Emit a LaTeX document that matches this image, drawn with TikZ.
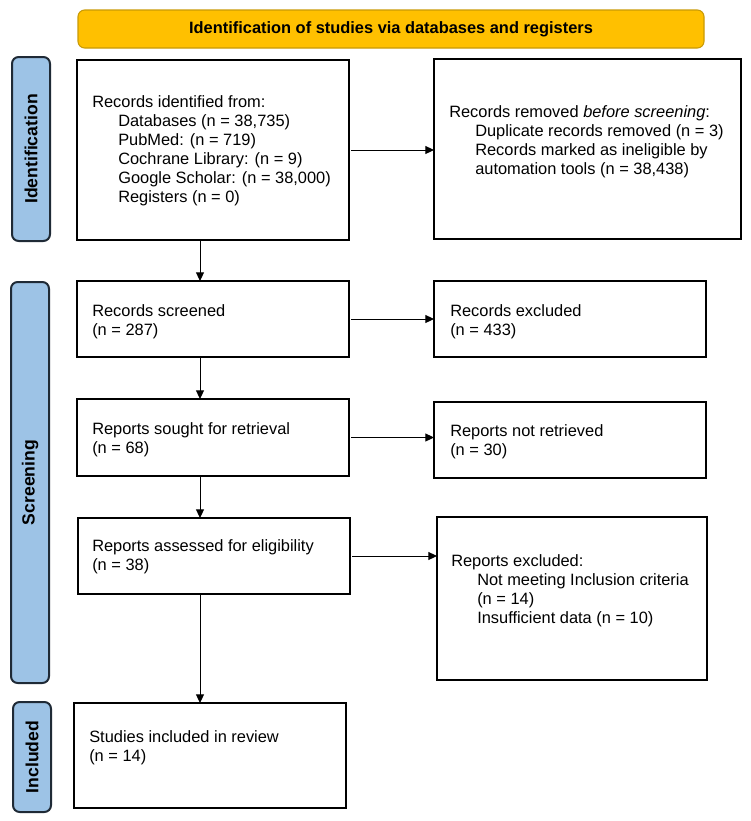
\documentclass[tikz,border=0pt]{standalone}
\usepackage{fontspec}
\setmainfont{Liberation Sans}
\usetikzlibrary{arrows.meta}
\definecolor{bannerfill}{HTML}{FFC000}
\definecolor{bannerdraw}{HTML}{C99A06}
\definecolor{barfill}{HTML}{9DC3E6}
\definecolor{bardraw}{HTML}{1F2A36}
\tikzset{
  box/.style={draw=black, line width=1.2pt, fill=white, inner sep=0pt, outer sep=0pt},
  banner/.style={draw=bannerdraw, line width=0.8pt, fill=bannerfill, rounded corners=5pt, inner sep=0pt, font=\fontsize{12.3}{14.25}\selectfont\bfseries},
  sidebar/.style={draw=bardraw, line width=1.5pt, fill=barfill, rounded corners=5pt, inner sep=0pt},
  sidetext/.style={rotate=90, inner sep=0pt, font=\fontsize{13.2}{15}\selectfont\bfseries},
  txt/.style={anchor=west, align=left, inner sep=0pt, font=\fontsize{12.3}{14.25}\selectfont},
  arr/.style={draw=black, line width=0.75pt, -{Triangle[length=6.5pt,width=6pt]}}
}
\newcommand{\ind}{\hspace*{19.5pt}}
\begin{document}
\begin{tikzpicture}[x=0.75pt,y=-0.75pt]
\useasboundingbox (0,0) rectangle (750,821);
% banner
\node[banner, minimum width=469.5pt, minimum height=28.5pt] (ban) at (391,29) {Identification of studies via databases and registers};
% side bars
\node[sidebar, minimum width=28.5pt, minimum height=138pt] (sid) at (31,149) {};
\node[sidetext] (sidt) at (sid.center) {Identification};
\node[sidebar, minimum width=28.5pt, minimum height=300.75pt] (ssc) at (30,482.5) {};
\node[sidetext] (ssct) at (ssc.center) {Screening};
\node[sidebar, minimum width=28.5pt, minimum height=82.5pt] (sin) at (32,757) {};
\node[sidetext] (sint) at (sin.center) {Included};
% boxes
\node[box, minimum width=204pt, minimum height=135pt] (b1) at (213,150) {};
\node[box, minimum width=230.25pt, minimum height=135pt] (r1) at (587.5,149) {};
\node[box, minimum width=204pt, minimum height=57pt] (b2) at (213,319) {};
\node[box, minimum width=204pt, minimum height=57pt] (r2) at (570,319) {};
\node[box, minimum width=204pt, minimum height=57.75pt] (b3) at (213,437.5) {};
\node[box, minimum width=204pt, minimum height=57pt] (r3) at (570,440) {};
\node[box, minimum width=204pt, minimum height=57pt] (b4) at (214,556) {};
\node[box, minimum width=202.5pt, minimum height=122.25pt] (r4) at (572,598.5) {};
\node[box, minimum width=204pt, minimum height=78.75pt] (b5) at (210,755.5) {};
% texts
\node[txt] (t1) at (92,151) {Records identified from:\\
\ind Databases (n = 38,735)\\
\ind PubMed: (n = 719)\\
\ind Cochrane Library: (n = 9)\\
\ind Google Scholar: (n = 38,000)\\
\ind Registers (n = 0)};
\node[txt] (tr1) at (449,141.5) {Records removed \textit{before screening}:\\
\ind Duplicate records removed (n = 3)\\
\ind Records marked as ineligible by\\
\ind automation tools (n = 38,438)};
\node[txt] (t2) at (92,321.5) {Records screened\\(n = 287)};
\node[txt] (tr2) at (450,321.5) {Records excluded\\(n = 433)};
\node[txt] (t3) at (92,440) {Reports sought for retrieval\\(n = 68)};
\node[txt] (tr3) at (450,442) {Reports not retrieved\\(n = 30)};
\node[txt] (t4) at (92,557) {Reports assessed for eligibility\\(n = 38)};
\node[txt] (tr4) at (451,591) {Reports excluded:\\
\ind Not meeting Inclusion criteria\\
\ind (n = 14)\\
\ind Insufficient data (n = 10)};
\node[txt] (t5) at (89,748) {Studies included in review\\(n = 14)};
% connectors
\coordinate (ax) at (200,0);
\draw[arr] (b1.south -| ax) -- (b2.north -| ax);
\draw[arr] (b2.south -| ax) -- (b3.north -| ax);
\draw[arr] (b3.south -| ax) -- (b4.north -| ax);
\draw[arr] (b4.south -| ax) -- (b5.north -| ax);
\draw[arr] ([xshift=1.5pt]b1.east) -- (r1.west |- b1.east);
\draw[arr] ([xshift=1.5pt]b2.east) -- (r2.west |- b2.east);
\draw[arr] ([xshift=1.5pt]b3.east) -- (r3.west |- b3.east);
\draw[arr] ([xshift=1.5pt]b4.east) -- (r4.west |- b4.east);
\end{tikzpicture}
\end{document}
